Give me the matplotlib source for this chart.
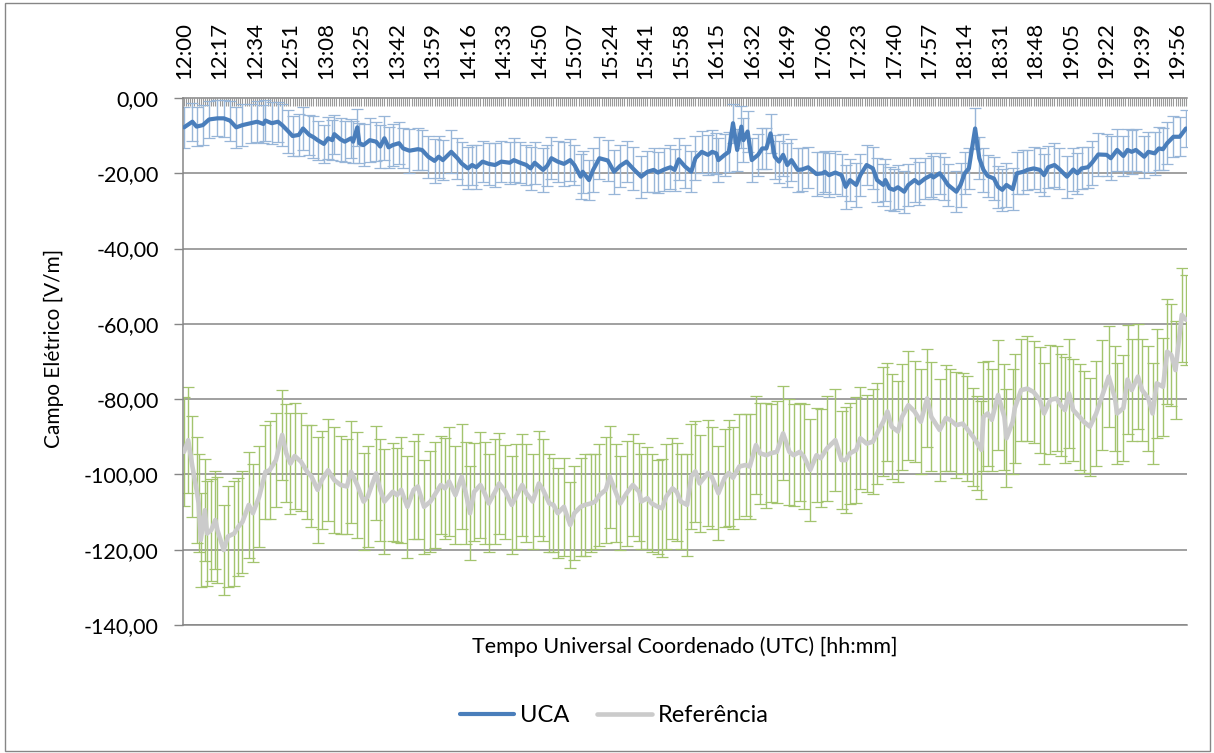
import matplotlib
matplotlib.use("Agg")
import matplotlib.pyplot as plt
from matplotlib.patches import Rectangle
import numpy as np

# ---------------- data ----------------
tick_labels = ["12:00", "12:17", "12:34", "12:51", "13:08", "13:25", "13:42", "13:59",
               "14:16", "14:33", "14:50", "15:07", "15:24", "15:41", "15:58", "16:15",
               "16:32", "16:49", "17:06", "17:23", "17:40", "17:57", "18:14", "18:31",
               "18:48", "19:05", "19:22", "19:39", "19:56"]
start_label = "12:00"
end_label = "20:00"

uca_minutes = [0, 4, 6, 9, 12, 16, 19, 22, 25, 28,
               32, 35, 38, 39, 42, 45, 47, 50, 52, 55,
               57, 60, 62, 64, 67, 69, 71, 72, 75, 77,
               80, 81, 83, 84, 86, 89, 92, 94, 96, 98,
               100, 103, 105, 108, 112, 114, 117, 120, 122, 124,
               128, 131, 133, 136, 138, 140, 143, 146, 149, 152,
               156, 158, 161, 164, 166, 168, 172, 174, 176, 179,
               182, 185, 187, 190, 191, 194, 196, 199, 203, 206,
               209, 212, 215, 219, 222, 225, 227, 230, 233, 235,
               237, 240, 243, 245, 248, 251, 253, 255, 256, 259,
               261, 263, 265, 267, 268, 270, 272, 275, 277, 279,
               281, 283, 285, 287, 289, 291, 294, 296, 299, 303,
               306, 307, 309, 312, 315, 317, 319, 322, 324, 327,
               330, 332, 335, 336, 338, 340, 342, 345, 347, 350,
               352, 355, 358, 359, 362, 364, 366, 370, 372, 374,
               376, 379, 381, 383, 385, 388, 390, 392, 394, 397,
               399, 402, 404, 407, 410, 412, 414, 417, 419, 423,
               426, 428, 430, 433, 435, 438, 442, 444, 447, 450,
               452, 454, 456, 460, 462, 465, 467, 469, 471, 474,
               477, 480]
uca_values = [-7.8, -6.3, -7.6, -7.2, -5.7, -5.4, -5.4, -6.0, -7.8, -7.2,
              -6.7, -6.3, -6.9, -6.0, -6.7, -6.3, -7.2, -8.9, -10.1, -9.8,
              -8.1, -9.8, -10.4, -11.2, -12.2, -10.7, -11.2, -9.6, -11.0, -11.6,
              -10.7, -11.6, -7.8, -12.0, -12.5, -11.2, -11.6, -12.9, -10.7, -13.1,
              -12.5, -12.0, -13.4, -14.0, -13.6, -13.8, -15.6, -16.7, -15.6, -16.5,
              -14.3, -16.0, -17.4, -18.7, -17.8, -18.4, -16.9, -17.5, -17.8, -16.9,
              -17.2, -16.5, -17.2, -17.8, -18.7, -17.2, -19.1, -18.0, -16.0, -16.9,
              -17.5, -16.5, -17.8, -20.9, -19.6, -21.8, -19.1, -16.0, -16.6, -19.6,
              -18.0, -16.9, -18.7, -20.9, -19.6, -19.1, -19.8, -19.0, -18.4, -19.1,
              -16.3, -18.2, -19.6, -16.0, -14.3, -15.1, -14.3, -14.7, -16.5, -15.1,
              -14.3, -6.7, -13.8, -7.6, -11.2, -8.9, -16.5, -15.1, -13.4, -13.4,
              -9.4, -15.6, -16.9, -15.1, -17.8, -16.5, -19.1, -19.0, -18.4, -20.2,
              -20.0, -19.6, -20.5, -19.8, -20.5, -23.6, -21.8, -23.1, -20.5, -17.8,
              -18.7, -21.8, -23.1, -21.8, -24.0, -24.4, -23.7, -24.9, -23.1, -21.8,
              -22.7, -21.4, -20.5, -21.1, -20.0, -21.4, -23.1, -24.9, -23.1, -20.0,
              -18.7, -8.1, -16.0, -19.1, -20.7, -21.4, -23.6, -24.4, -23.1, -24.2,
              -20.0, -19.6, -19.1, -18.7, -19.1, -20.5, -18.4, -17.8, -18.7, -20.9,
              -19.0, -20.0, -18.7, -18.4, -17.2, -15.0, -15.1, -16.0, -13.8, -15.4,
              -13.8, -14.3, -13.8, -15.6, -14.3, -14.7, -13.4, -13.6, -12.0, -10.3,
              -10.3, -8.1]
uca_errors = [5.5, 5.0, 5.2, 5.4, 5.0, 4.8, 5.0, 5.3, 5.4, 5.6,
              5.2, 5.5, 5.0, 5.4, 5.6, 5.3, 5.5, 5.8, 5.2, 5.6,
              5.8, 5.4, 5.6, 5.2, 5.0, 5.6, 5.4, 5.2, 5.8, 5.5,
              5.2, 5.6, 5.0, 5.4, 5.5, 5.8, 5.2, 5.6, 5.8, 5.4,
              5.5, 5.6, 5.3, 5.8, 5.5, 5.2, 5.6, 5.8, 5.6, 5.4,
              5.7, 5.5, 5.8, 5.6, 5.4, 5.8, 5.5, 5.6, 5.8, 5.4,
              5.6, 5.8, 5.5, 5.4, 5.7, 5.6, 5.8, 5.4, 5.6, 5.5,
              5.8, 5.6, 5.4, 5.9, 5.6, 5.4, 5.8, 5.6, 5.5, 5.8,
              5.6, 5.4, 5.8, 5.6, 5.5, 5.8, 5.4, 5.6, 5.8, 5.5,
              5.6, 5.8, 5.5, 5.8, 5.6, 5.4, 5.7, 5.5, 5.8, 5.6,
              5.4, 5.2, 5.6, 5.6, 5.8, 5.4, 5.8, 5.6, 5.4, 5.5,
              5.2, 5.8, 5.6, 5.5, 5.8, 5.6, 5.8, 5.6, 5.4, 5.8,
              5.6, 5.5, 5.8, 5.6, 5.5, 5.8, 5.6, 5.9, 5.6, 5.4,
              5.6, 5.8, 5.6, 5.5, 5.8, 5.6, 5.9, 5.6, 5.5, 5.8,
              5.6, 5.5, 5.8, 5.6, 5.4, 5.8, 5.6, 5.5, 5.8, 5.6,
              5.4, 5.4, 5.6, 5.8, 5.6, 5.8, 5.5, 5.6, 5.8, 5.5,
              5.6, 5.8, 5.4, 5.6, 5.8, 5.5, 5.6, 5.8, 5.4, 5.6,
              5.8, 5.5, 5.6, 5.4, 5.8, 5.6, 5.5, 5.8, 5.6, 5.4,
              5.6, 5.8, 5.5, 5.6, 5.4, 5.8, 5.6, 5.5, 5.6, 5.4,
              5.2, 5.0]

ref_minutes = [0, 2, 4, 6, 7, 8, 10, 11, 13, 15,
               16, 19, 21, 24, 26, 28, 31, 33, 36, 39,
               41, 44, 47, 49, 51, 53, 56, 59, 61, 64,
               66, 69, 72, 75, 78, 80, 83, 86, 88, 92,
               94, 96, 100, 102, 104, 107, 110, 112, 115, 118,
               120, 123, 125, 127, 130, 133, 135, 137, 139, 142,
               144, 146, 149, 151, 154, 157, 159, 162, 164, 167,
               170, 172, 175, 177, 179, 182, 185, 187, 190, 192,
               195, 197, 199, 202, 204, 207, 209, 212, 215, 218,
               219, 222, 224, 227, 229, 231, 234, 236, 238, 241,
               243, 245, 247, 251, 253, 256, 259, 261, 263, 266,
               269, 271, 274, 276, 279, 281, 284, 287, 290, 292,
               295, 297, 300, 303, 305, 308, 312, 315, 317, 319,
               322, 324, 327, 330, 332, 335, 337, 339, 342, 344,
               347, 350, 353, 356, 358, 362, 365, 367, 370, 373,
               375, 378, 380, 382, 383, 385, 387, 390, 393, 394,
               397, 398, 401, 404, 407, 410, 412, 415, 418, 420,
               422, 424, 426, 429, 431, 434, 437, 440, 443, 446,
               447, 450, 452, 454, 457, 459, 462, 464, 466, 469,
               471, 473, 475, 478, 480]
ref_values = [-94.0, -90.9, -97.9, -104.1, -107.7, -117.4, -109.5, -115.7, -114.8, -112.1,
              -114.8, -120.1, -116.5, -115.7, -113.9, -112.6, -108.1, -110.3, -105.9, -99.3,
              -98.9, -96.2, -89.5, -94.4, -97.1, -95.1, -96.6, -99.3, -100.5, -104.1,
              -101.5, -98.9, -101.5, -102.8, -103.2, -99.3, -102.8, -107.2, -105.9, -99.7,
              -104.1, -107.2, -104.6, -105.5, -104.1, -108.6, -104.1, -103.2, -108.6, -107.2,
              -105.5, -102.8, -103.7, -101.9, -105.5, -100.6, -105.0, -110.3, -104.6, -102.8,
              -105.0, -107.7, -104.6, -102.4, -104.6, -108.1, -105.9, -102.8, -105.0, -107.2,
              -102.4, -104.1, -107.7, -108.1, -110.3, -108.6, -113.4, -110.3, -108.6, -108.1,
              -107.7, -107.2, -105.5, -104.1, -100.6, -105.0, -107.7, -105.0, -102.8, -104.6,
              -107.2, -106.3, -107.7, -108.6, -109.0, -105.9, -103.7, -104.6, -107.2, -108.1,
              -100.5, -99.2, -102.4, -99.6, -100.9, -105.0, -100.9, -99.6, -100.9, -97.9,
              -97.5, -97.9, -92.2, -94.4, -94.9, -94.4, -94.0, -89.1, -94.0, -94.9,
              -94.0, -95.3, -98.8, -94.9, -95.7, -93.1, -90.9, -96.2, -96.2, -94.4,
              -93.5, -90.4, -91.8, -91.3, -89.1, -86.0, -83.3, -87.3, -88.6, -84.7,
              -81.6, -83.3, -86.0, -79.8, -84.7, -88.2, -85.0, -85.5, -86.9, -86.5,
              -87.8, -90.0, -91.7, -93.5, -84.7, -83.8, -85.5, -78.9, -84.7, -90.4,
              -86.0, -82.4, -77.6, -77.2, -78.1, -80.2, -83.8, -80.2, -79.8, -81.6,
              -82.9, -78.5, -82.9, -84.7, -86.0, -87.3, -83.8, -78.9, -74.0, -79.8,
              -83.8, -82.4, -74.8, -77.6, -74.0, -77.6, -79.8, -83.8, -75.8, -76.7,
              -67.4, -68.3, -72.3, -57.6, -58.9]
ref_errors = [14.5, 14.0, 13.5, 14.0, 13.0, 12.5, 13.5, 14.0, 13.5, 13.0,
              14.0, 12.0, 13.5, 14.0, 13.0, 13.5, 14.0, 13.0, 13.5, 12.5,
              13.0, 12.5, 12.0, 13.0, 13.5, 14.0, 13.0, 12.5, 13.5, 14.0,
              13.0, 13.5, 14.0, 13.0, 12.5, 13.5, 14.0, 13.0, 13.5, 12.5,
              13.5, 14.0, 13.0, 12.5, 14.0, 13.5, 13.0, 14.0, 12.5, 13.5,
              14.0, 13.0, 13.5, 14.5, 13.0, 14.0, 13.5, 12.5, 13.0, 14.0,
              13.5, 13.0, 14.0, 13.5, 12.5, 13.0, 14.0, 13.5, 13.0, 12.5,
              14.0, 13.5, 13.0, 12.5, 12.0, 13.0, 11.5, 12.5, 13.0, 13.5,
              13.0, 12.5, 13.5, 14.0, 13.5, 13.0, 12.5, 14.0, 13.5, 13.0,
              12.5, 13.5, 13.0, 12.5, 13.0, 14.0, 13.5, 13.0, 12.5, 13.5,
              14.0, 13.5, 13.0, 14.0, 13.5, 12.5, 13.0, 14.0, 13.5, 14.0,
              13.5, 14.0, 13.0, 13.5, 14.0, 13.0, 13.5, 12.5, 14.0, 13.5,
              13.0, 14.0, 13.5, 12.5, 13.0, 14.0, 13.5, 13.0, 14.0, 13.5,
              14.0, 13.5, 13.0, 14.0, 13.5, 14.5, 13.0, 14.0, 13.5, 14.0,
              14.5, 13.5, 14.0, 13.0, 14.5, 13.5, 14.0, 13.5, 14.0, 13.5,
              14.0, 13.0, 12.5, 13.0, 14.5, 14.0, 13.5, 14.5, 14.0, 13.0,
              14.0, 14.5, 13.5, 14.0, 13.5, 14.0, 13.5, 14.5, 14.0, 13.5,
              14.0, 14.5, 13.5, 14.0, 13.5, 13.0, 14.0, 14.5, 13.5, 14.0,
              13.5, 14.0, 14.5, 13.5, 14.0, 13.5, 14.0, 13.5, 14.5, 13.0,
              14.0, 13.5, 13.0, 12.5, 12.0]

y_ticks = [0, -20, -40, -60, -80, -100, -120, -140]

series_names = ["UCA", "Referência"]
x_title = "Tempo Universal Coordenado (UTC) [hh:mm]"
y_title = "Campo Elétrico [V/m]"

# ---------------- helpers ----------------
def to_min(s):
    h, m = s.split(":")
    return int(h) * 60 + int(m)

t0 = to_min(start_label)
t_end = to_min(end_label) - t0
tick_pos = [to_min(s) - t0 for s in tick_labels]

n1 = min(len(uca_minutes), len(uca_values), len(uca_errors))
n2 = min(len(ref_minutes), len(ref_values), len(ref_errors))

# ---------------- figure ----------------
plt.rcParams['font.family'] = ['Lato', 'DejaVu Sans']
W, H = 1214, 753
fig = plt.figure(figsize=(W / 100, H / 100), dpi=100)
ax = fig.add_axes([183 / W, 1 - 625 / H, (1187 - 183) / W, (625 - 98) / H])

grid_c = '#868686'
for v in y_ticks[1:]:
    ax.axhline(v, color=grid_c, lw=1.1, zorder=1)

# error bars
ax.errorbar(uca_minutes[:n1], uca_values[:n1], yerr=uca_errors[:n1], fmt='none',
            ecolor='#98b6d8', elinewidth=1.0, capsize=4.5, capthick=0.9, zorder=2)
ax.errorbar(ref_minutes[:n2], ref_values[:n2], yerr=ref_errors[:n2], fmt='none',
            ecolor='#a3c46e', elinewidth=1.0, capsize=4.5, capthick=0.9, zorder=2)

# lines
ax.plot(uca_minutes[:n1], uca_values[:n1], color='#4a7ebb', lw=3.0, zorder=4,
        solid_joinstyle='round', solid_capstyle='round', label=series_names[0])
ax.plot(ref_minutes[:n2], ref_values[:n2], color='#cbcbcb', lw=3.3, zorder=3,
        solid_joinstyle='round', solid_capstyle='round', label=series_names[1])

ax.set_xlim(-0.5, t_end + 0.5)
ax.set_ylim(-140, 0)

# axes styling
ax.spines['right'].set_visible(False)
for side in ['left', 'top', 'bottom']:
    ax.spines[side].set_color(grid_c)
    ax.spines[side].set_linewidth(1.1)

ax.set_yticks(y_ticks)
ax.set_yticklabels([f"{v:.2f}".replace('.', ',') for v in y_ticks])
ax.tick_params(axis='y', direction='out', length=6.5, width=1.0, color=grid_c,
               labelsize=15.5, pad=11, labelcolor='black')

ax.xaxis.tick_top()
ax.set_xticks(tick_pos)
ax.set_xticklabels(tick_labels, rotation=90)
ax.set_xticks(np.arange(0, t_end + 1), minor=True)
ax.tick_params(axis='x', which='both', direction='in', length=6, width=0.8,
               color='#9a9a9a', top=True, bottom=False)
ax.tick_params(axis='x', which='major', labelsize=16, pad=14, labelcolor='black')

fig.text(54 / W, 1 - 348 / H, y_title, rotation=90, ha='center', va='center', fontsize=15)
fig.text(685 / W, 1 - 647 / H, x_title, ha='center', va='center', fontsize=15.5)

fig.legend(loc='center', bbox_to_anchor=(614 / W, 1 - 716 / H), ncol=2, frameon=False,
           fontsize=17, handlelength=2.3, handletextpad=0.25, columnspacing=1.2)

fig.patches.append(Rectangle((5 / W, 2 / H), (W - 9) / W, (H - 5) / H, transform=fig.transFigure,
                             fill=False, edgecolor='#868686', lw=1.0))

fig.savefig('out.png', dpi=100)
